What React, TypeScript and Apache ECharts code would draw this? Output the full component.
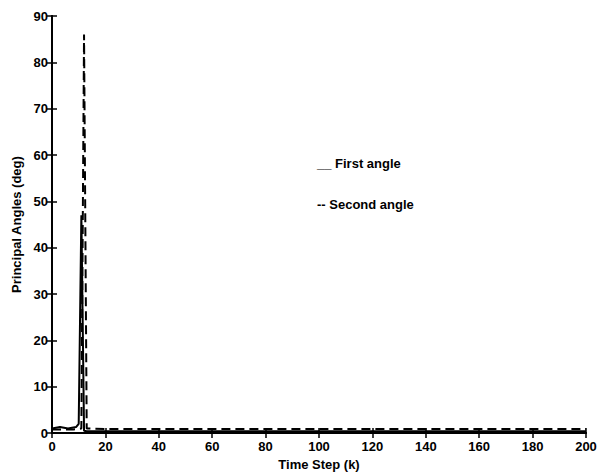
import React, { useEffect, useRef } from "react";
import * as echarts from "echarts";

const firstK = [0, 1, 2, 3, 4, 5, 6, 7, 8, 9, 10, 11, 12, 13, 20, 40, 60, 80, 100, 120, 140, 160, 180, 200];
const firstVal = [1.0, 1.1, 1.2, 1.3, 1.2, 1.1, 1.0, 1.1, 1.2, 1.3, 2.0, 47, 0.5, 0.4, 0.4, 0.4, 0.4, 0.4, 0.4, 0.4, 0.4, 0.4, 0.4, 0.4];
const secondK = [0, 2, 4, 6, 8, 10, 11, 12, 13, 20, 40, 60, 80, 100, 120, 140, 160, 180, 200];
const secondVal = [0.8, 0.8, 0.8, 0.8, 0.8, 0.9, 1.0, 86, 1.0, 0.9, 0.9, 0.9, 0.9, 0.9, 0.9, 0.9, 0.9, 0.9, 0.9];

const xTicks = { min: 0, max: 200, interval: 20 };
const yTicks = { min: 0, max: 90, interval: 10 };
const xTitle = "Time Step (k)";
const yTitle = "Principal Angles (deg)";
const legendFirst = "__ First angle";
const legendSecond = "-- Second angle";

const FONT = "Liberation Sans, Arial, sans-serif";

export default function App() {
  const ref = useRef<HTMLDivElement>(null);
  useEffect(() => {
    if (!ref.current) return;
    const chart = echarts.init(ref.current, null, { renderer: "svg" });
    const axisLine = { show: true, lineStyle: { color: "#000", width: 2 } };
    const axisTick = { show: true, inside: true, length: 5, lineStyle: { color: "#000", width: 1.5 } };
    const label = { color: "#000", fontFamily: FONT, fontSize: 13, fontWeight: "bold" as const };
    chart.setOption({
      animation: false,
      backgroundColor: "#fff",
      grid: { left: 52, right: 19, top: 16, bottom: 41, containLabel: false },
      xAxis: [
        {
          type: "value", ...xTicks, position: "bottom",
          axisLine, axisTick, splitLine: { show: false },
          axisLabel: { ...label, margin: 7 },
          name: xTitle, nameLocation: "middle", nameGap: 24,
          nameTextStyle: { ...label, fontSize: 13, verticalAlign: "top" },
        },
        {
          type: "value", ...xTicks, position: "top",
          axisLine, axisTick, splitLine: { show: false }, axisLabel: { show: false },
        },
      ],
      yAxis: [
        {
          type: "value", ...yTicks, position: "left",
          axisLine, axisTick, splitLine: { show: false },
          axisLabel: { ...label, margin: 4 },
          name: yTitle, nameLocation: "middle", nameGap: 23,
          nameTextStyle: { ...label, fontSize: 13 },
        },
        {
          type: "value", ...yTicks, position: "right",
          axisLine, axisTick, splitLine: { show: false }, axisLabel: { show: false },
        },
      ],
      series: [
        {
          type: "line", name: "First angle", symbol: "none",
          data: firstK.map((k, i) => [k, firstVal[i]]),
          lineStyle: { color: "#000", width: 2, type: "solid" },
        },
        {
          type: "line", name: "Second angle", symbol: "none",
          data: secondK.map((k, i) => [k, secondVal[i]]),
          lineStyle: { color: "#000", width: 2, type: [9, 5] },
        },
      ],
      graphic: [
        {
          type: "text", left: 317, top: 157,
          style: { text: legendFirst, fill: "#000", font: `bold 13px ${FONT}` },
        },
        {
          type: "text", left: 317, top: 198,
          style: { text: legendSecond, fill: "#000", font: `bold 13px ${FONT}` },
        },
      ],
    });
    return () => chart.dispose();
  }, []);
  return <div ref={ref} style={{ position: "absolute", left: 0, top: 0, width: 605, height: 476 }} />;
}
